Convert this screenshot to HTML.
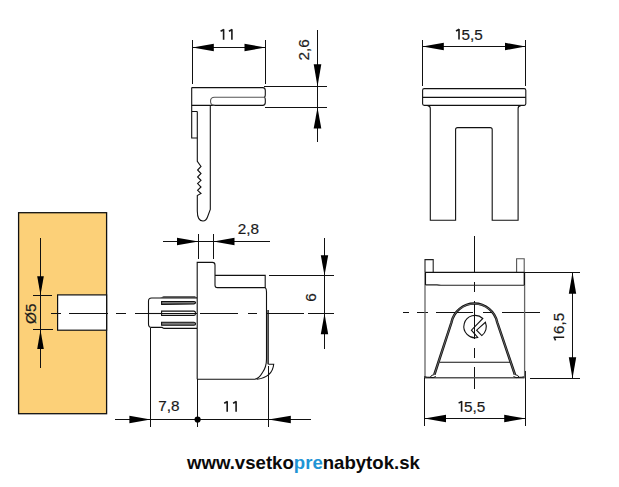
<!DOCTYPE html>
<html><head><meta charset="utf-8">
<style>
html,body{margin:0;padding:0;background:#fff;width:619px;height:487px;overflow:hidden}
svg{display:block}
text{font-family:"Liberation Sans",sans-serif;font-size:15.3px;fill:#1a1a1a;stroke:#1a1a1a;stroke-width:0.2}
</style></head><body>
<svg width="619" height="487" viewBox="0 0 619 487">
<!-- wood block -->
<rect x="18.6" y="212.7" width="88" height="201" fill="#fcd078" stroke="#111" stroke-width="1.3"/>
<rect x="57.6" y="294.9" width="49" height="35.3" fill="#fff" stroke="#111" stroke-width="1.2"/>

<!-- straight lines (crisp) -->
<g fill="none" stroke="#111" stroke-width="1" shape-rendering="crispEdges">
<!-- TOP LEFT dims -->
<path d="M192.5,40 V84.2 M265.5,40 V84.2 M192.5,47.5 H265.5"/>
<path d="M317.5,29.5 V142 M263.5,86.5 H327 M265,107.5 H327"/>
<!-- TOP RIGHT dims -->
<path d="M422.5,39.5 V85.5 M525.5,39.5 V85.5 M422.5,46.5 H525.5"/>
<!-- wood dim -->
<path d="M40.5,238 V367.5 M33,295.5 H52 M33,329.5 H53"/>
<!-- center line left -->
<path d="M51,313.5 H60.5 M69.3,313.5 H108 M116,313.5 H126 M135,313.5 H197 M200.3,313.5 H238.3 M247.5,313.5 H256.7 M267,313.5 H304 M308,313.5 H334"/>
<!-- MIDDLE dims -->
<path d="M163,241.5 H270 M198.5,234 V258.5 M213.5,234 V258.5"/>
<path d="M324.5,238 V349 M269,275.5 H333.5"/>
<path d="M115,419.5 H311 M150.5,327.5 V426.5 M197.5,379 V427 M268.5,366 V427"/>
<!-- BOTTOM RIGHT dims -->
<path d="M424.5,375.5 V425.5 M525.5,370.5 V425.5 M424.5,418.5 H525.5"/>
<path d="M524,272.5 H580 M530,378.5 H580 M572.5,272.5 V378.5"/>
<!-- center lines right -->
<path d="M403,312.5 H409 M417,312.5 H428 M436,312.5 H473.4 M483.2,312.5 H491.6 M502,312.5 H540"/>
<path d="M474.5,236.2 V273 M474.5,282 V292.3 M474.5,301.3 V339.3 M474.5,348 V358 M474.5,366.7 V389"/>
</g>

<!-- part outlines (AA) -->
<g fill="none" stroke="#111" stroke-width="1.1">
<!-- TOP LEFT part -->
<path d="M191.7,87.6 H262.6 Q265.3,87.6 265.3,90.4 V94.5 Q265.3,97.3 264,97.3 Q265.3,97.3 265.3,100 V102.6 Q265.3,105.4 262.6,105.4 H191.7"/>
<path d="M191.7,87.6 V138 H197.3 M191.7,111.5 H197.3"/>
<path d="M197.3,111.5 V161.3 L201,166.5 L197.6,170 L201,173.5 L197.6,177 L201,180.3 L197.6,183.6 L201,187 L197.6,190.3 L201,193.5 L197.3,195.5 V211 Q197.3,221 203,221 Q206,221 207.5,217 L210.3,209.5 V105.4"/>
<path d="M265,97.3 H214.5 Q210.5,97.3 210.5,101.3 Q210.5,105.4 214.5,105.4" stroke="#555"/>

<!-- TOP RIGHT part -->
<rect x="422.6" y="88.6" width="103.2" height="16.8" rx="1.6"/>
<line x1="422.6" y1="97.4" x2="525.8" y2="97.4"/>
<path d="M427.6,105.6 Q430.3,105.8 430.3,108.5 V220.2 H455.6 V129.6 Q455.6,127.6 457.6,127.6 H490.1 Q492.2,127.6 492.2,129.6 V220.2 H518.1 V108.5 Q518.1,105.8 520.8,105.6"/>

<!-- MIDDLE part -->
<path d="M197.2,379.3 V262.4 H212.4 Q215,262.4 215,265 V285.2 Q215,287.6 217.4,287.6 H265.2 V275.4 H215.2"/>
<path d="M265.3,287.6 Q266.5,288.6 266.5,292 V359 Q266.5,367 262.5,372.5 Q258.7,379.3 254,379.3 H197.2"/>
<path d="M268.1,310 V364.2" stroke-width="1.4"/>
<path d="M268.4,364.2 H273.7 Q272.5,377 257,379.3"/>
<!-- pin -->
<path d="M197,297.9 H162 L160,298 H151.6 Q148.5,298 148.5,301 V324.3 Q148.5,327.4 151.6,327.4 H162 L164,328.4 H197"/>
<path d="M162.5,297 L164,296.8 H195.5" stroke="#333"/>
<path d="M161.6,301.5 H194 Q195.6,301.6 195.6,302.6 Q195.6,303.7 194,303.9 L161.6,304.4 Z" fill="#7a7a7a"/>
<path d="M161.6,311.1 H194 Q195.6,311.3 195.6,313.3 Q195.6,315.3 194,315.4 H161.6 Z" fill="#fff"/>
<path d="M161.6,322.2 H194 Q195.6,322.4 195.6,323.8 Q195.6,325.2 194,325.3 H161.6 Z" fill="#7a7a7a"/>
<line x1="148" y1="313.5" x2="161.5" y2="313.5"/>
<line x1="161.5" y1="313.5" x2="195.3" y2="313.5"/>

<!-- BOTTOM RIGHT part -->
<path d="M425,377.8 V285" stroke="#666" stroke-width="1.3"/>
<path d="M524.6,377.8 V285" stroke="#666" stroke-width="1.3"/>
<path d="M425,272.4 V259.6 H433.2 V272.4" stroke="#222"/>
<path d="M516.6,272.4 V258.8 H524.2 V272.4" stroke="#555"/>
<path d="M425.3,272.4 V285 M524.4,272.4 V285" stroke-width="1.5"/>
<line x1="425" y1="272.4" x2="524.4" y2="272.4"/>
<path d="M425.5,284.9 H437 Q439,285.3 441,285.3 H524.4" stroke="#222"/>
<line x1="425" y1="377.7" x2="524.6" y2="377.7" stroke="#555" stroke-width="1.4"/>
<line x1="439.6" y1="362.3" x2="511.2" y2="362.3"/>
<!-- arch -->
<path d="M434.4,374.5 L451.5,322.3 A23.3,23.3 0 0 1 497.2,322.3 L514.9,374.5" stroke-width="2.5"/>
<path d="M434.4,374.5 L451.5,322.3 A23.3,23.3 0 0 1 497.2,322.3 L514.9,374.5" stroke="#bbb" stroke-width="0.5"/>
<path d="M434.4,374.5 Q430.8,375 430.3,377.3 Q433.3,378.3 435.8,376.5 M424.8,376.8 Q427,377.3 430.3,377.3 M514.9,374.5 Q518.5,375 519,377.3 Q516,378.3 513.5,376.5 M524,376.8 Q522,377.3 519,377.3" stroke-width="1"/>
<!-- circle w/ chevron -->
<path d="M482.8,318.5 A11.2,11.2 0 1 0 477.7,337.5 L471.4,330.2 Z"/>
<path d="M485.4,322.3 A11.2,11.2 0 0 1 481.8,335.6 L476.6,330.2 Z"/>
</g>

<!-- arrowheads -->
<g fill="#000" stroke="none">
<polygon points="192.5,47.5 213.8,43.7 213.8,51.3"/>
<polygon points="265.5,47.5 244.5,43.7 244.5,51.3"/>
<polygon points="317.5,86.5 313.7,64.3 321.3,64.3"/>
<polygon points="317.5,107.5 313.7,128.5 321.3,128.5"/>
<polygon points="422.5,46.5 443.8,42.7 443.8,50.3"/>
<polygon points="525.5,46.5 505,42.7 505,50.3"/>
<polygon points="40.5,295 37.2,276.3 43.8,276.3"/>
<polygon points="40.5,330 37.2,349 43.8,349"/>
<polygon points="198.5,241.5 177,237.8 177,245.2"/>
<polygon points="213.5,241.5 234.5,237.8 234.5,245.2"/>
<polygon points="324.5,275.5 320.8,255.3 328.2,255.3"/>
<polygon points="324.5,313.5 320.8,334.2 328.2,334.2"/>
<polygon points="150.5,419.5 129.4,415.8 129.4,423.2"/>
<polygon points="268.5,419.5 290.8,415.8 290.8,423.2"/>
<circle cx="197.6" cy="419.5" r="3.1"/>
<polygon points="424.5,418.5 446,414.8 446,422.2"/>
<polygon points="525.5,418.5 504.2,414.8 504.2,422.2"/>
<polygon points="572.5,272.5 568.8,293.8 576.2,293.8"/>
<polygon points="572.5,378.5 568.8,357.2 576.2,357.2"/>
</g>

<!-- labels -->
<defs><path id="one" d="M0,0.2 V10.8 M0.3,0.5 L-3,2.2" fill="none" stroke="#1a1a1a" stroke-width="1.6"/></defs>
<use href="#one" x="223.6" y="29"/><use href="#one" x="231.9" y="29"/>
<text transform="translate(309,49.8) rotate(-90)" text-anchor="middle">2,6</text>
<use href="#one" x="459" y="28.8"/><text x="461.5" y="39.8">5,5</text>
<text x="248.5" y="234" text-anchor="middle">2,8</text>
<text transform="translate(315.7,297.5) rotate(-90)" text-anchor="middle">6</text>
<text transform="translate(36,313.7) rotate(-90)" text-anchor="middle">Ø5</text>
<text x="169" y="411.4" text-anchor="middle">7,8</text>
<use href="#one" x="227.2" y="401"/><use href="#one" x="236.1" y="401"/>
<use href="#one" x="461.6" y="400.9"/><text x="464.1" y="411.8">5,5</text>
<g transform="translate(564,337.3) rotate(-90)"><use href="#one" x="0" y="-10.6"/></g>
<text transform="translate(564,334) rotate(-90)">6,5</text>

<text x="187" y="469.3" style="font-weight:bold;font-size:18.6px;fill:#0a0a0a;stroke:none">www.vsetko<tspan style="fill:#1f95d5">pre</tspan>nabytok.sk</text>
</svg>
</body></html>
